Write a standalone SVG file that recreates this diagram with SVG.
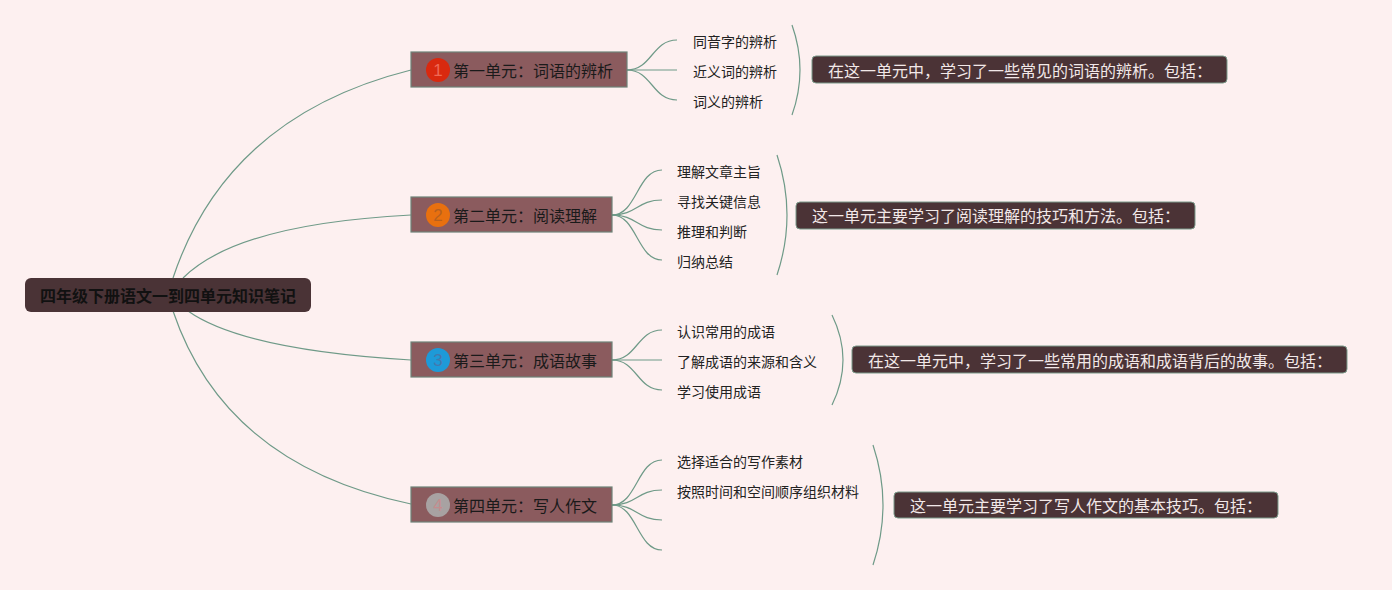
<svg xmlns="http://www.w3.org/2000/svg" width="1392" height="590" viewBox="0 0 1392 590">
<style>
.bg{fill:#FDF0F0}
.conn{fill:none;stroke:#6F9A88;stroke-width:1.2}
.root-box{fill:#4A3336}
.root-txt{font-family:"Noto Sans CJK SC","Noto Sans",sans-serif;font-size:16px;font-weight:bold;fill:#111}
.unit-box{fill:#8B5B5E;stroke:#6E8378;stroke-width:1.2}
.unit-txt{font-family:"Noto Sans CJK SC","Noto Sans",sans-serif;font-size:16px;fill:#1a1a1a}
.num{font-family:"Liberation Sans","Noto Sans",sans-serif;font-size:17px;text-anchor:middle}
.sub-txt{font-family:"Noto Sans CJK SC","Noto Sans",sans-serif;font-size:14px;fill:#222}
.sum-box{fill:#4B3336;stroke:#7A9A8A;stroke-width:1}
.sum-txt{font-family:"Noto Sans CJK SC","Noto Sans",sans-serif;font-size:16px;fill:#F2E8E8}
</style>
<rect class="bg" x="0" y="0" width="1392" height="590"/>

<g id="connectors">
  <path class="conn" d="M173,278 Q227,116 411,70"/>
  <path class="conn" d="M183,278 Q237,224 411,215"/>
  <path class="conn" d="M188,311 Q243,350 411,360"/>
  <path class="conn" d="M173,311 Q225,465 411,504"/>
  <path class="conn" d="M627,70 C652,70 652,40 677,40"/>
  <path class="conn" d="M627,70 L677,70"/>
  <path class="conn" d="M627,70 C652,70 652,100 677,100"/>
  <path class="conn" d="M792,25 Q808,70 792,115"/>
  <path class="conn" d="M612,215 C637,215 637,170 662,170"/>
  <path class="conn" d="M612,215 C637,215 637,200 662,200"/>
  <path class="conn" d="M612,215 C637,215 637,230 662,230"/>
  <path class="conn" d="M612,215 C637,215 637,260 662,260"/>
  <path class="conn" d="M777,155 Q797,215 777,275"/>
  <path class="conn" d="M612,360 C637,360 637,330 662,330"/>
  <path class="conn" d="M612,360 L662,360"/>
  <path class="conn" d="M612,360 C637,360 637,390 662,390"/>
  <path class="conn" d="M832,315 Q854,360 832,405"/>
  <path class="conn" d="M612,505 C637,505 637,460 662,460"/>
  <path class="conn" d="M612,505 C637,505 637,490 662,490"/>
  <path class="conn" d="M612,505 C637,505 637,520 662,520"/>
  <path class="conn" d="M612,505 C637,505 637,550 662,550"/>
  <path class="conn" d="M873,445 Q893,505 873,565"/>
</g>

<g id="root">
  <rect class="root-box" x="25" y="278" width="286" height="34" rx="6"/>
  <text class="root-txt" x="168" y="295" text-anchor="middle" dominant-baseline="central">四年级下册语文一到四单元知识笔记</text>
</g>

<g id="unit1">
  <rect class="unit-box" x="411" y="52" width="216" height="35"/>
  <circle cx="438" cy="70" r="12" fill="#D9290F"/>
  <text class="num" x="438" y="70" dominant-baseline="central" fill="#EE6A55">1</text>
  <text class="unit-txt" x="453" y="70" dominant-baseline="central">第一单元：词语的辨析</text>
</g>
<g id="unit1-subs">
  <text class="sub-txt" x="693" y="41" dominant-baseline="central">同音字的辨析</text>
  <text class="sub-txt" x="693" y="71" dominant-baseline="central">近义词的辨析</text>
  <text class="sub-txt" x="693" y="101" dominant-baseline="central">词义的辨析</text>
</g>
<g id="summary1">
  <rect class="sum-box" x="812" y="56" width="415" height="27" rx="4"/>
  <text class="sum-txt" x="828" y="70" dominant-baseline="central">在这一单元中，学习了一些常见的词语的辨析。包括：</text>
</g>

<g id="unit2">
  <rect class="unit-box" x="411" y="197" width="201" height="35"/>
  <circle cx="438" cy="215" r="12" fill="#E8700F"/>
  <text class="num" x="438" y="215" dominant-baseline="central" fill="#B8601E">2</text>
  <text class="unit-txt" x="453" y="215" dominant-baseline="central">第二单元：阅读理解</text>
</g>
<g id="unit2-subs">
  <text class="sub-txt" x="677" y="171" dominant-baseline="central">理解文章主旨</text>
  <text class="sub-txt" x="677" y="201" dominant-baseline="central">寻找关键信息</text>
  <text class="sub-txt" x="677" y="231" dominant-baseline="central">推理和判断</text>
  <text class="sub-txt" x="677" y="261" dominant-baseline="central">归纳总结</text>
</g>
<g id="summary2">
  <rect class="sum-box" x="796" y="202" width="399" height="27" rx="4"/>
  <text class="sum-txt" x="812" y="215" dominant-baseline="central">这一单元主要学习了阅读理解的技巧和方法。包括：</text>
</g>

<g id="unit3">
  <rect class="unit-box" x="411" y="342" width="201" height="35"/>
  <circle cx="438" cy="360" r="12" fill="#1E9AD8"/>
  <text class="num" x="438" y="360" dominant-baseline="central" fill="#4578AE">3</text>
  <text class="unit-txt" x="453" y="360" dominant-baseline="central">第三单元：成语故事</text>
</g>
<g id="unit3-subs">
  <text class="sub-txt" x="677" y="331" dominant-baseline="central">认识常用的成语</text>
  <text class="sub-txt" x="677" y="361" dominant-baseline="central">了解成语的来源和含义</text>
  <text class="sub-txt" x="677" y="391" dominant-baseline="central">学习使用成语</text>
</g>
<g id="summary3">
  <rect class="sum-box" x="852" y="346" width="495" height="27" rx="4"/>
  <text class="sum-txt" x="868" y="360" dominant-baseline="central">在这一单元中，学习了一些常用的成语和成语背后的故事。包括：</text>
</g>

<g id="unit4">
  <rect class="unit-box" x="411" y="487" width="201" height="35"/>
  <circle cx="438" cy="505" r="12" fill="#A8A2A2"/>
  <text class="num" x="438" y="505" dominant-baseline="central" fill="#C48C8E">4</text>
  <text class="unit-txt" x="453" y="505" dominant-baseline="central">第四单元：写人作文</text>
</g>
<g id="unit4-subs">
  <text class="sub-txt" x="677" y="461" dominant-baseline="central">选择适合的写作素材</text>
  <text class="sub-txt" x="677" y="491" dominant-baseline="central">按照时间和空间顺序组织材料</text>
</g>
<g id="summary4">
  <rect class="sum-box" x="894" y="492" width="384" height="26" rx="4"/>
  <text class="sum-txt" x="910" y="505" dominant-baseline="central">这一单元主要学习了写人作文的基本技巧。包括：</text>
</g>
</svg>
